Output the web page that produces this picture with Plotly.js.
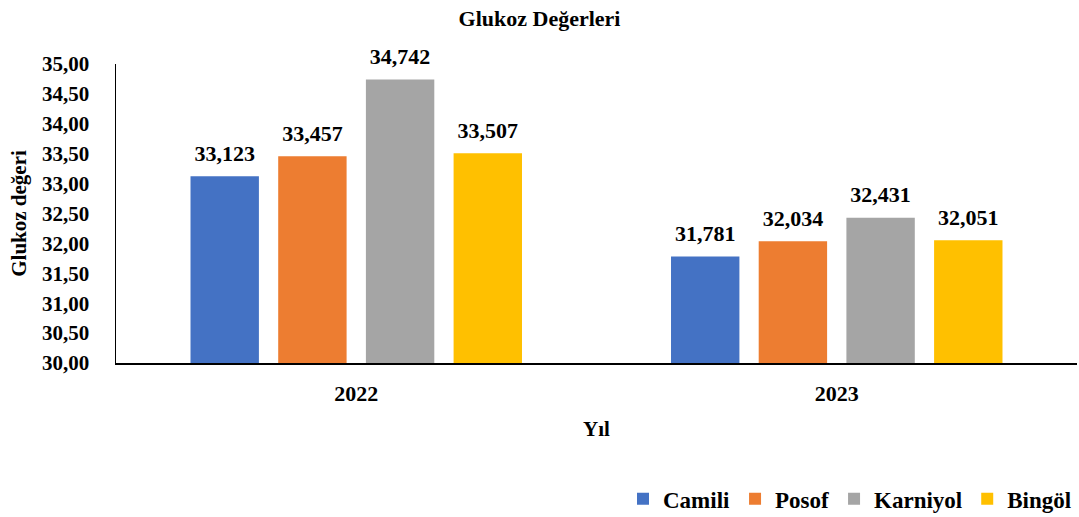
<!DOCTYPE html>
<html>
<head>
<meta charset="utf-8">
<script src="https://cdn.plot.ly/plotly-3.0.1.min.js"></script>
<style>html,body{margin:0;padding:0;background:#fff;}#chart{width:1079px;height:517px;}</style>
</head>
<body>
<div id="chart"></div>
<script>
const years = ["2022", "2023"];
const seriesNames = ["Camili", "Posof", "Karniyol", "Bingöl"];
const camili = [33.123, 31.781];
const posof = [33.457, 32.034];
const karniyol = [34.742, 32.431];
const bingol = [33.507, 32.051];
const colors = ["#4472C4", "#ED7D31", "#A5A5A5", "#FFC000"];

const values = [camili, posof, karniyol, bingol];
const FONT = "Liberation Serif";
const BOLD = (size) => ({family: FONT, size: size, color: "#000", weight: "bold"});

const barTraces = values.map((v, i) => ({
  type: "bar",
  name: seriesNames[i],
  x: years,
  y: v,
  marker: {color: colors[i]},
  hoverinfo: "skip"
}));

const labelTraces = values.map((v, i) => ({
  type: "scatter",
  mode: "markers+text",
  x: years,
  y: v,
  text: v.map(n => n.toFixed(3).replace(".", ",")),
  textposition: "top center",
  textfont: BOLD(22),
  marker: {size: 14, opacity: 0, color: colors[i]},
  cliponaxis: false,
  showlegend: false,
  hoverinfo: "skip"
}));

const layout = {
  width: 1079,
  height: 517,
  separators: ",.",
  font: {family: FONT, color: "#000"},
  paper_bgcolor: "#fff",
  plot_bgcolor: "#fff",
  margin: {l: 116, r: 2, t: 64, b: 154},
  barmode: "group",
  bargap: 0.27,
  bargroupgap: 0.22,
  scattermode: "group",
  scattergap: 0.27,
  title: {
    text: "Glukoz Değerleri",
    font: BOLD(22),
    x: 0.5, xanchor: "center", xref: "container",
    y: 0.965, yanchor: "middle", yref: "container"
  },
  xaxis: {
    type: "category",
    showline: true, linecolor: "#000", linewidth: 1.5,
    ticks: "outside", ticklen: 10, tickcolor: "rgba(0,0,0,0)",
    tickfont: BOLD(22),
    title: {text: "Yıl", font: BOLD(21), standoff: 16},
    showgrid: false, zeroline: false
  },
  yaxis: {
    range: [30, 35],
    tickvals: [30, 30.5, 31, 31.5, 32, 32.5, 33, 33.5, 34, 34.5, 35],
    tickformat: ".2f",
    tickfont: BOLD(21),
    showline: true, linecolor: "#000", linewidth: 1.5,
    ticks: "outside", ticklen: 21, tickcolor: "rgba(0,0,0,0)",
    showgrid: false, zeroline: false,
    title: {text: "Glukoz değeri", font: BOLD(21), standoff: 9}
  },
  legend: {
    orientation: "h",
    x: 1, xanchor: "right", xref: "paper",
    y: 0.035, yanchor: "middle", yref: "container",
    font: BOLD(23),
    traceorder: "normal"
  },
  showlegend: true
};

Plotly.newPlot("chart", barTraces.concat(labelTraces), layout, {displayModeBar: false, staticPlot: true});
</script>
</body>
</html>
